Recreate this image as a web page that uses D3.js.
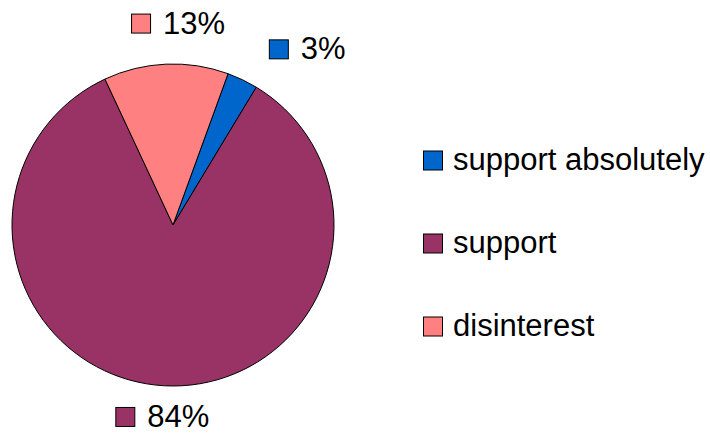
<!DOCTYPE html>
<html>
<head>
<meta charset="utf-8">
<script src="https://cdn.jsdelivr.net/npm/d3@7"></script>
<style>
  body { margin: 0; background: #fff; }
  text { font-family: "Liberation Sans", Arial, sans-serif; fill: #000; }
</style>
</head>
<body>
<div id="chart-area"></div>
<script>
// chart data
const categories = ["support absolutely", "support", "disinterest"];
const values = [3.1, 84.4, 12.5];
const colors = ["#0066CC", "#993366", "#FF8080"];

const width = 710, height = 435;
const cx = 173, cy = 225, radius = 161;
const fontSize = 31, keySize = 19;

let svg = d3.select("#chart-area")
  .append("svg")
  .attr("width", width)
  .attr("height", height);

let data = categories.map((c, i) => ({ name: c, value: values[i], color: colors[i] }));
let total = d3.sum(values);

// first slice rotated ~20 degrees like the original
let pie = d3.pie()
  .value(d => d.value)
  .sort(null)
  .startAngle(20 * Math.PI / 180)
  .endAngle(20 * Math.PI / 180 + 2 * Math.PI);

let arc = d3.arc().innerRadius(0).outerRadius(radius);

let g = svg.append("g").attr("transform", "translate(" + cx + "," + cy + ")");

let arcs = pie(data);

g.selectAll("path")
  .data(arcs)
  .enter()
  .append("path")
  .attr("d", arc)
  .attr("fill", d => d.data.color)
  .attr("stroke", "#000")
  .attr("stroke-width", 1);

// data labels with legend key, placed outside the slice
arcs.forEach(function(d) {
  let mid = (d.startAngle + d.endAngle) / 2;
  let s = Math.sin(mid), c = Math.cos(mid);
  let r = radius + 22;
  let px = s * r, py = -c * r;
  let label = Math.round(d.data.value / total * 100) + "%";
  let lg = g.append("g");
  let t = lg.append("text")
    .attr("font-size", fontSize + "px")
    .attr("x", keySize + 13)
    .attr("y", 0)
    .text(label);
  let tw = t.node().getComputedTextLength();
  let w = keySize + 13 + tw;
  lg.append("rect")
    .attr("x", 0.5)
    .attr("y", -keySize - 0.5)
    .attr("width", keySize)
    .attr("height", keySize)
    .attr("fill", d.data.color)
    .attr("stroke", "#000")
    .attr("stroke-width", 1);
  let left = px - w / 2 + 10.5 + 90 * s + 6.5 * c;
  let baseline = py + 6 - 14 * c + 14 * s;
  lg.attr("transform", "translate(" + left + "," + baseline + ")");
});

// legend
let legend = svg.append("g").attr("transform", "translate(423,0)");
let legendY = d3.scalePoint().domain(categories).range([160, 326]);

categories.forEach(function(cat, i) {
  let y = legendY(cat);
  legend.append("rect")
    .attr("x", 0.5)
    .attr("y", y - keySize / 2 + 0.5)
    .attr("width", keySize)
    .attr("height", keySize)
    .attr("fill", colors[i])
    .attr("stroke", "#000")
    .attr("stroke-width", 1);
  legend.append("text")
    .attr("x", 30)
    .attr("y", y + 10)
    .attr("font-size", fontSize + "px")
    .text(cat);
});
</script>
</body>
</html>
